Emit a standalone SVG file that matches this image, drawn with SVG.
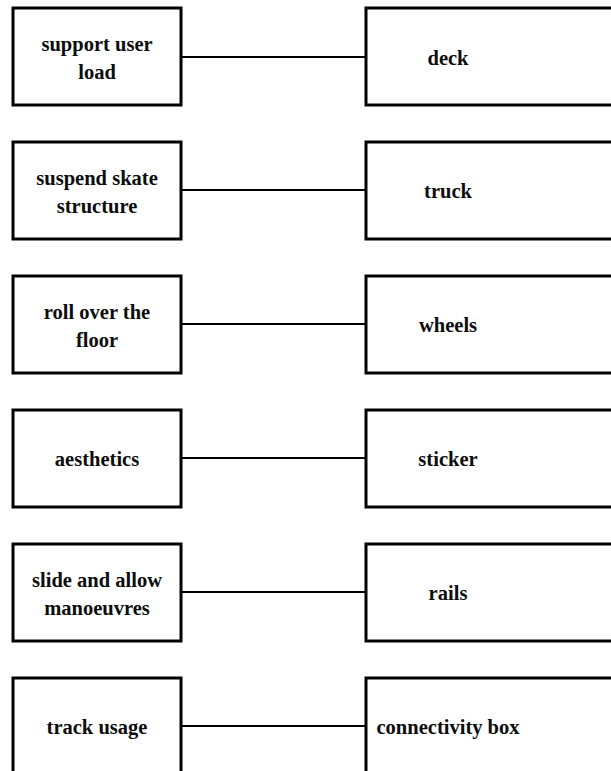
<svg xmlns="http://www.w3.org/2000/svg" width="611" height="771" viewBox="0 0 611 771">
  <style>
    .box { fill: #ffffff; stroke: #000000; stroke-width: 3; }
    .link { stroke: #000000; stroke-width: 2; fill: none; }
    .label { font-family: "Liberation Serif", "Times New Roman", serif; font-weight: bold; font-size: 21.5px; fill: #0d0d0d; text-anchor: middle; }
  </style>
  <rect width="611" height="771" fill="#ffffff"/>

  <!-- connectors between function and component -->
  <g id="connectors">
    <line class="link" x1="181" y1="57" x2="366" y2="57"/>
    <line class="link" x1="181" y1="190" x2="366" y2="190"/>
    <line class="link" x1="181" y1="324" x2="366" y2="324"/>
    <line class="link" x1="181" y1="458" x2="366" y2="458"/>
    <line class="link" x1="181" y1="592" x2="366" y2="592"/>
    <line class="link" x1="181" y1="726" x2="366" y2="726"/>
  </g>

  <!-- functions (left column); labels are slightly narrowed -->
  <g id="f-support">
    <rect class="box" x="13" y="8" width="168" height="97"/>
    <text class="label" transform="translate(97 51) scale(0.955 1)">support user</text>
    <text class="label" transform="translate(97 79) scale(0.955 1)">load</text>
  </g>
  <g id="f-suspend">
    <rect class="box" x="13" y="142" width="168" height="97"/>
    <text class="label" transform="translate(97 185) scale(0.955 1)">suspend skate</text>
    <text class="label" transform="translate(97 213) scale(0.955 1)">structure</text>
  </g>
  <g id="f-roll">
    <rect class="box" x="13" y="276" width="168" height="97"/>
    <text class="label" transform="translate(97 319) scale(0.955 1)">roll over the</text>
    <text class="label" transform="translate(97 347) scale(0.955 1)">floor</text>
  </g>
  <g id="f-aesthetics">
    <rect class="box" x="13" y="410" width="168" height="97"/>
    <text class="label" transform="translate(97 466) scale(0.955 1)">aesthetics</text>
  </g>
  <g id="f-slide">
    <rect class="box" x="13" y="544" width="168" height="97"/>
    <text class="label" transform="translate(97 587) scale(0.955 1)">slide and allow</text>
    <text class="label" transform="translate(97 615) scale(0.955 1)">manoeuvres</text>
  </g>
  <g id="f-track">
    <rect class="box" x="13" y="678" width="168" height="97"/>
    <text class="label" transform="translate(97 734) scale(0.955 1)">track usage</text>
  </g>

  <!-- components (right column) -->
  <g id="c-deck">
    <rect class="box" x="366" y="8" width="260" height="97"/>
    <text class="label" transform="translate(448 65) scale(0.955 1)">deck</text>
  </g>
  <g id="c-truck">
    <rect class="box" x="366" y="142" width="260" height="97"/>
    <text class="label" transform="translate(448 198) scale(0.955 1)">truck</text>
  </g>
  <g id="c-wheels">
    <rect class="box" x="366" y="276" width="260" height="97"/>
    <text class="label" transform="translate(448 332) scale(0.955 1)">wheels</text>
  </g>
  <g id="c-sticker">
    <rect class="box" x="366" y="410" width="260" height="97"/>
    <text class="label" transform="translate(448 466) scale(0.955 1)">sticker</text>
  </g>
  <g id="c-rails">
    <rect class="box" x="366" y="544" width="260" height="97"/>
    <text class="label" transform="translate(448 600) scale(0.955 1)">rails</text>
  </g>
  <g id="c-connectivity">
    <rect class="box" x="366" y="678" width="260" height="97"/>
    <text class="label" transform="translate(448 734) scale(0.955 1)">connectivity box</text>
  </g>
</svg>
